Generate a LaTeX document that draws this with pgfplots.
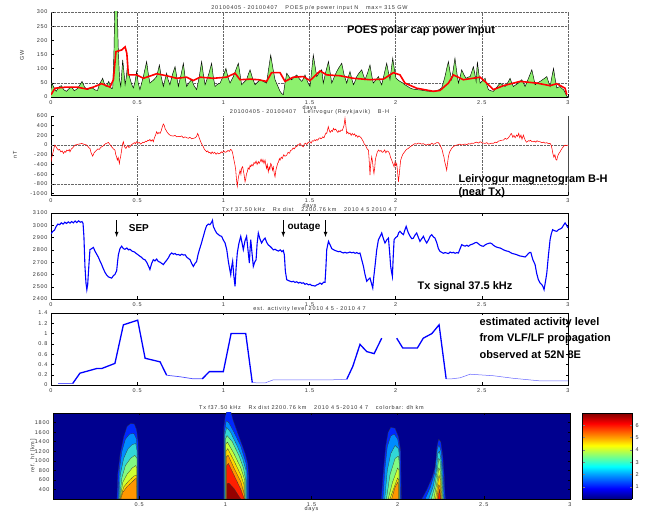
\documentclass[border=0pt]{standalone}
\usepackage{fontspec}
\setmainfont{Liberation Sans}
\usepackage{pgfplots}
\usepackage{pgfplotstable}
\pgfplotsset{compat=1.18}
\newfontfamily\tickfam[LetterSpace=14]{Liberation Sans}
\newcommand\tickfont{\tickfam\fontsize{5.5}{6}\selectfont}
\newcommand\bigfont{\fontsize{11}{13}\selectfont\bfseries}
\definecolor{poesgreen}{RGB}{140,240,110}
\definecolor{jetbg}{RGB}{0,0,143}
\definecolor{cA}{RGB}{0,40,255}
\definecolor{cB}{RGB}{0,140,255}
\definecolor{cC}{RGB}{50,215,215}
\definecolor{cD}{RGB}{130,250,130}
\definecolor{cE}{RGB}{205,255,50}
\definecolor{cF}{RGB}{255,215,0}
\definecolor{cG}{RGB}{255,150,0}
\definecolor{cH}{RGB}{255,30,0}
\definecolor{cI}{RGB}{150,0,0}
\pgfplotsset{
 every axis title shift=0pt,
 base/.style={scale only axis, width=517pt, xmin=0, xmax=3, xtick={0,0.5,1,1.5,2,2.5,3},
  anchor=south west, tick align=inside, major tick length=2.5pt,
  tick style={black, line width=0.4pt},
  tick label style={font=\tickfont, text=black!80},
  /pgf/number format/assume math mode=true, /pgf/number format/1000 sep={},
  title style={font=\tickfont, text=black!80, at={(0.5,1)}, anchor=south, inner sep=1pt},
  xlabel style={font=\tickfont, text=black!80, at={(0.5,0)}, anchor=north, yshift=-8pt, inner sep=0.5pt},
  axis line style={line width=0.5pt}},
 cont/.style={draw=black!80, line width=0.25pt},
}
\pgfplotstableread{
x y
0.000 26
0.006 49
0.015 35
0.030 20
0.045 35
0.060 40
0.075 25
0.090 20
0.105 30
0.120 35
0.135 22
0.150 28
0.165 40
0.180 55
0.195 35
0.210 26
0.225 30
0.240 32
0.255 25
0.270 23
0.280 43
0.290 55
0.300 66
0.310 45
0.320 37
0.335 55
0.350 30
0.358 31
0.365 150
0.370 317
0.378 330
0.385 300
0.390 177
0.398 60
0.405 37
0.410 80
0.416 131
0.423 90
0.430 43
0.437 70
0.443 107
0.450 85
0.458 66
0.468 45
0.478 32
0.488 55
0.497 90
0.506 50
0.516 26
0.535 70
0.555 125
0.565 80
0.574 49
0.595 60
0.613 72
0.629 113
0.640 70
0.652 37
0.661 60
0.671 84
0.680 60
0.690 43
0.705 80
0.720 107
0.730 70
0.739 37
0.755 80
0.768 119
0.778 70
0.787 37
0.800 50
0.816 61
0.830 40
0.845 26
0.860 70
0.874 125
0.884 80
0.894 43
0.915 80
0.932 119
0.942 70
0.952 37
0.966 45
0.981 49
1.000 75
1.015 101
1.027 70
1.039 49
1.048 60
1.058 72
1.072 95
1.087 119
1.097 80
1.106 43
1.120 52
1.135 61
1.145 80
1.155 96
1.170 65
1.184 43
1.198 52
1.213 61
1.232 55
1.251 49
1.263 100
1.275 148
1.288 100
1.300 61
1.315 40
1.329 20
1.339 12
1.348 8
1.358 50
1.368 84
1.383 70
1.397 61
1.411 70
1.426 78
1.440 65
1.455 55
1.465 65
1.474 78
1.488 55
1.503 37
1.512 90
1.522 148
1.532 110
1.542 72
1.556 85
1.571 96
1.580 49
1.595 90
1.610 125
1.620 85
1.629 49
1.643 70
1.658 90
1.672 105
1.687 119
1.700 80
1.716 49
1.725 70
1.735 90
1.745 65
1.755 43
1.764 55
1.774 72
1.788 85
1.803 96
1.812 78
1.822 61
1.837 85
1.851 113
1.860 80
1.870 49
1.885 60
1.900 72
1.910 55
1.919 43
1.933 80
1.948 119
1.957 90
1.967 61
1.975 100
1.983 137
1.992 100
2.002 66
2.014 60
2.025 55
2.040 50
2.054 43
2.068 38
2.083 32
2.100 28
2.122 26
2.140 25
2.161 23
2.180 21
2.199 20
2.220 21
2.238 22
2.252 26
2.267 32
2.276 50
2.286 72
2.296 100
2.306 125
2.315 90
2.325 61
2.335 100
2.344 137
2.354 90
2.364 49
2.374 70
2.383 96
2.395 80
2.408 66
2.420 70
2.432 72
2.442 90
2.451 107
2.460 80
2.467 55
2.474 125
2.482 85
2.490 49
2.505 58
2.519 66
2.528 45
2.538 26
2.552 22
2.567 20
2.587 35
2.606 49
2.620 43
2.635 37
2.650 50
2.664 66
2.673 50
2.683 37
2.697 43
2.712 49
2.722 55
2.732 61
2.741 50
2.751 37
2.770 65
2.790 96
2.800 70
2.809 43
2.823 50
2.838 55
2.857 63
2.877 72
2.886 55
2.896 37
2.906 70
2.916 101
2.925 65
2.935 32
2.945 35
2.954 37
2.964 30
2.974 26
2.984 15
2.993 2
3.000 2
}\poes
\begin{document}
\begin{tikzpicture}[x=1pt,y=1pt]
\path[use as bounding box] (0,0) rectangle (650,511);
% ---------------- Panel 1: POES
\begin{axis}[base, at={(51pt,414pt)}, height=85pt, ymin=0, ymax=300, ytick={0,50,...,300},
  axis x line*=bottom, axis y line*=left, xmajorgrids, grid style={densely dotted, black!60},
  extra y ticks={50,250,300}, extra y tick labels={}, extra y tick style={grid=major, major tick length=0pt},
  title={20100405 - 20100407 \quad POES p/e power input N \quad max= 315 GW}, xlabel={days}]
\addplot[fill=poesgreen, draw=none] table {\poes} \closedcycle;
\addplot[black, line width=0.45pt] table {\poes};
\addplot[red, line width=1.6pt] coordinates {
(0.000,8) (0.023,31) (0.090,35) (0.149,35) (0.207,28) (0.246,35) (0.294,47) (0.342,35) (0.362,61)
(0.377,160) (0.410,166) (0.430,177) (0.440,154) (0.449,78) (0.497,78) (0.536,66) (0.613,82)
(0.671,75) (0.729,66) (0.787,70) (0.826,58) (0.865,70) (0.942,66) (1.019,70) (1.068,84) (1.097,61)
(1.155,63) (1.203,61) (1.251,55) (1.280,86) (1.329,86) (1.358,55) (1.406,70) (1.464,72) (1.503,58)
(1.561,92) (1.600,78) (1.677,75) (1.755,66) (1.851,61) (1.929,63) (1.987,86) (2.025,78) (2.054,49)
(2.122,31) (2.219,20) (2.257,23) (2.306,49) (2.335,78) (2.393,61) (2.490,70) (2.528,49) (2.567,26)
(2.625,40) (2.722,55) (2.819,49) (2.896,40) (2.935,47) (2.983,31) (2.993,8)};
\end{axis}
% ---------------- Panel 2: Leirvogur
\begin{axis}[base, at={(51pt,316pt)}, height=79pt, ymin=-1030, ymax=600, ytick={-1000,-800,...,600},
  xticklabels={0,0.5,1,1.5,2,{},3},
  axis x line*=bottom, axis y line*=left, xmajorgrids, grid style={densely dotted, black!60},
  extra y ticks={0,-800}, extra y tick labels={}, extra y tick style={grid=major, major tick length=0pt},
  extra x ticks={3}, extra x tick labels={}, extra x tick style={grid=major, major grid style={solid, black!70, line width=0.8pt}},
  title={20100405 - 20100407 \quad Leirvogur (Reykjavik) \quad B-H}, xlabel={days}]
\addplot[red, line width=0.55pt] coordinates {
(0.000,-345) (0.005,-241) (0.012,-150) (0.020,-20) (0.023,0) (0.030,-40) (0.037,-80) (0.043,-103)
(0.050,-90) (0.057,-140) (0.065,-120) (0.072,-172) (0.080,-130) (0.086,-150) (0.091,-103) (0.100,-120)
(0.106,-90) (0.110,-138) (0.118,-80) (0.125,-60) (0.132,-30) (0.139,0) (0.150,10) (0.160,20) (0.170,25)
(0.178,35) (0.188,20) (0.198,10) (0.207,0) (0.215,-30) (0.221,-60) (0.226,-69) (0.232,-150) (0.238,-200)
(0.242,-228) (0.250,-160) (0.258,-130) (0.265,-103) (0.272,-80) (0.280,-90) (0.288,-50) (0.294,-35)
(0.302,-20) (0.310,10) (0.318,30) (0.325,40) (0.333,55) (0.340,20) (0.346,-10) (0.352,-35) (0.360,-70)
(0.366,-90) (0.371,-103) (0.376,-200) (0.381,-250) (0.385,-310) (0.390,-260) (0.394,-330) (0.397,-380)
(0.400,-300) (0.404,-241) (0.410,-100) (0.415,20) (0.420,69) (0.425,-20) (0.430,-50) (0.435,-69)
(0.440,-30) (0.447,-10) (0.452,-50) (0.458,-35) (0.465,0) (0.472,20) (0.478,35) (0.485,50) (0.490,30)
(0.497,69) (0.505,40) (0.512,55) (0.520,20) (0.526,35) (0.533,60) (0.540,50) (0.548,80) (0.555,69)
(0.562,100) (0.568,90) (0.574,117) (0.580,80) (0.588,110) (0.594,69) (0.600,150) (0.606,200) (0.613,276)
(0.620,230) (0.626,260) (0.633,241) (0.640,300) (0.646,380) (0.652,434) (0.658,400) (0.662,340)
(0.667,310) (0.675,260) (0.682,230) (0.690,207) (0.700,190) (0.710,186) (0.720,200) (0.730,170)
(0.740,180) (0.749,172) (0.758,190) (0.768,150) (0.778,170) (0.787,152) (0.797,140) (0.806,160)
(0.816,130) (0.826,138) (0.836,150) (0.845,180) (0.851,240) (0.855,207) (0.860,150) (0.865,103)
(0.872,40) (0.878,0) (0.884,-35) (0.890,-90) (0.896,-110) (0.903,-138) (0.910,-120) (0.916,-160)
(0.922,-150) (0.929,-180) (0.935,-140) (0.942,-172) (0.950,-150) (0.958,-190) (0.965,-160) (0.973,-180)
(0.981,-172) (0.988,-140) (0.995,-160) (1.002,-120) (1.010,-150) (1.019,-138) (1.027,-110) (1.035,-130)
(1.042,-90) (1.048,-103) (1.053,-150) (1.058,-241) (1.064,-350) (1.068,-420) (1.072,-517) (1.076,-700)
(1.081,-849) (1.086,-700) (1.090,-620) (1.093,-586) (1.097,-520) (1.102,-600) (1.106,-480) (1.112,-448)
(1.118,-560) (1.122,-650) (1.126,-759) (1.130,-700) (1.134,-600) (1.139,-552) (1.144,-470) (1.150,-500)
(1.155,-420) (1.159,-448) (1.166,-400) (1.172,-430) (1.178,-360) (1.184,-380) (1.190,-330) (1.196,-400)
(1.203,-340) (1.208,-380) (1.213,-345) (1.219,-290) (1.225,-350) (1.230,-300) (1.236,-380) (1.242,-310)
(1.247,-420) (1.251,-480) (1.255,-400) (1.261,-552) (1.266,-450) (1.270,-500) (1.275,-380) (1.280,-414)
(1.285,-520) (1.290,-450) (1.296,-600) (1.300,-655) (1.305,-520) (1.310,-448) (1.315,-380) (1.320,-350)
(1.325,-280) (1.329,-310) (1.336,-250) (1.342,-280) (1.350,-200) (1.358,-230) (1.368,-207) (1.376,-150)
(1.384,-170) (1.390,-110) (1.397,-103) (1.405,-60) (1.412,-80) (1.420,-30) (1.426,-35) (1.432,10)
(1.438,0) (1.445,35) (1.452,0) (1.458,-20) (1.464,-35) (1.470,20) (1.477,40) (1.484,10) (1.490,50)
(1.497,60) (1.503,69) (1.510,40) (1.516,90) (1.522,80) (1.530,110) (1.536,90) (1.542,117) (1.548,100)
(1.555,140) (1.561,150) (1.566,130) (1.571,138) (1.577,170) (1.584,150) (1.590,207) (1.596,250)
(1.600,241) (1.605,320) (1.609,379) (1.615,300) (1.620,260) (1.627,300) (1.633,280) (1.639,345)
(1.645,310) (1.652,330) (1.658,290) (1.665,260) (1.670,300) (1.677,276) (1.683,310) (1.690,300)
(1.695,350) (1.700,400) (1.706,552) (1.711,400) (1.716,241) (1.722,270) (1.728,230) (1.735,250)
(1.742,200) (1.748,240) (1.755,207) (1.762,230) (1.768,180) (1.774,200) (1.780,160) (1.787,190)
(1.793,172) (1.800,150) (1.806,110) (1.813,69) (1.818,20) (1.824,0) (1.829,-35) (1.835,-80) (1.842,-103)
(1.846,-300) (1.851,-621) (1.855,-400) (1.861,-241) (1.866,-350) (1.870,-500) (1.874,-586) (1.879,-450)
(1.882,-300) (1.886,-241) (1.893,-150) (1.900,-103) (1.908,-130) (1.915,-110) (1.922,-150) (1.929,-138)
(1.936,-100) (1.943,-160) (1.950,-120) (1.958,-138) (1.964,-170) (1.970,-250) (1.977,-310) (1.984,-380)
(1.991,-448) (1.996,-350) (2.001,-420) (2.006,-380) (2.011,-550) (2.016,-759) (2.021,-600) (2.025,-450)
(2.029,-310) (2.035,-250) (2.040,-200) (2.045,-172) (2.052,-140) (2.060,-100) (2.067,-80) (2.074,-69)
(2.082,-40) (2.090,-20) (2.096,-10) (2.103,14) (2.112,30) (2.122,20) (2.131,40) (2.141,35) (2.150,20)
(2.160,30) (2.170,10) (2.180,0) (2.190,20) (2.200,10) (2.210,40) (2.219,14) (2.228,30) (2.238,50)
(2.248,48) (2.255,20) (2.261,-30) (2.267,-69) (2.272,-130) (2.276,-200) (2.280,-241) (2.285,-350)
(2.290,-420) (2.296,-517) (2.300,-400) (2.306,-241) (2.312,-150) (2.318,-110) (2.325,-69) (2.335,-30)
(2.345,-10) (2.354,0) (2.364,10) (2.374,20) (2.383,0) (2.393,14) (2.403,20) (2.413,10) (2.422,30)
(2.432,20) (2.441,40) (2.451,35) (2.460,50) (2.470,60) (2.480,40) (2.490,69) (2.500,50) (2.509,40)
(2.519,35) (2.529,50) (2.538,20) (2.548,30) (2.558,40) (2.567,35) (2.577,60) (2.587,50) (2.596,80)
(2.606,90) (2.616,100) (2.625,103) (2.635,140) (2.644,120) (2.654,150) (2.664,200) (2.670,241)
(2.673,230) (2.680,160) (2.686,200) (2.693,150) (2.702,207) (2.708,180) (2.714,240) (2.720,150)
(2.727,207) (2.733,120) (2.741,207) (2.747,140) (2.752,100) (2.758,60) (2.764,69) (2.770,90) (2.776,80)
(2.782,100) (2.790,70) (2.799,69) (2.806,80) (2.813,60) (2.820,90) (2.828,70) (2.838,69) (2.848,50)
(2.858,60) (2.867,40) (2.877,50) (2.886,30) (2.896,35) (2.902,0) (2.908,-90) (2.912,-172) (2.918,-250)
(2.924,-200) (2.930,-300) (2.935,-310) (2.940,-230) (2.946,-180) (2.954,-138) (2.960,-100) (2.967,-60)
(2.974,-30) (2.983,0) (2.990,-10) (3.000,0)};
\end{axis}
% ---------------- Panel 3: Tx signal
\begin{axis}[base, at={(51pt,212pt)}, height=86pt, ymin=2400, ymax=3100, ytick={2400,2500,...,3100},
  title={Tx f 37.50 kHz \quad Rx dist \quad 2200.76 km \quad 2010 4 5 2010 4 7}]
\addplot[blue, line width=1.1pt] coordinates {
(0.000,2930) (0.010,2950) (0.020,2960) (0.030,2990) (0.040,3010) (0.050,3005) (0.060,3020) (0.070,3010)
(0.080,3025) (0.090,3015) (0.100,3028) (0.110,3018) (0.120,3030) (0.130,3020) (0.140,3035) (0.150,3022)
(0.160,3036) (0.170,3025) (0.180,3030) (0.186,3015) (0.191,2910) (0.197,2666) (0.203,2530) (0.208,2476)
(0.213,2520) (0.217,2612) (0.222,2720) (0.226,2802) (0.236,2810) (0.246,2820) (0.255,2790) (0.265,2765)
(0.275,2740) (0.284,2710) (0.294,2680) (0.304,2645) (0.314,2615) (0.323,2595) (0.333,2580) (0.342,2575)
(0.352,2570) (0.362,2590) (0.371,2600) (0.381,2630) (0.386,2700) (0.391,2760) (0.400,2810) (0.410,2830)
(0.420,2810) (0.429,2805) (0.440,2815) (0.450,2800) (0.458,2805) (0.470,2790) (0.480,2785) (0.487,2780)
(0.495,2770) (0.505,2760) (0.516,2748) (0.525,2740) (0.535,2725) (0.545,2720) (0.555,2700) (0.565,2670)
(0.574,2640) (0.584,2690) (0.594,2720) (0.603,2710) (0.613,2725) (0.623,2705) (0.633,2700) (0.642,2690)
(0.652,2680) (0.662,2700) (0.671,2715) (0.681,2735) (0.690,2760) (0.700,2775) (0.710,2765) (0.720,2770)
(0.729,2760) (0.739,2762) (0.749,2755) (0.759,2765) (0.768,2758) (0.778,2760) (0.788,2740) (0.797,2730)
(0.807,2720) (0.816,2690) (0.826,2665) (0.836,2690) (0.845,2705) (0.853,2760) (0.861,2800) (0.872,2850)
(0.884,2910) (0.894,2960) (0.903,2997) (0.913,3010) (0.922,3005) (0.932,3024) (0.937,3040) (0.942,2991)
(0.952,2960) (0.961,2937) (0.971,2925) (0.980,2915) (0.990,2910) (1.000,2880) (1.010,2856) (1.020,2800)
(1.029,2707) (1.036,2650) (1.043,2598) (1.048,2660) (1.054,2707) (1.060,2600) (1.068,2503) (1.074,2650)
(1.081,2774) (1.090,2850) (1.101,2910) (1.108,2860) (1.116,2802) (1.125,2870) (1.135,2910) (1.143,2800)
(1.151,2693) (1.155,2800) (1.159,2883) (1.166,2780) (1.174,2666) (1.182,2700) (1.190,2720) (1.196,2850)
(1.203,2937) (1.212,2890) (1.222,2856) (1.232,2880) (1.242,2896) (1.252,2860) (1.261,2840) (1.271,2829)
(1.281,2815) (1.290,2800) (1.300,2805) (1.310,2796) (1.320,2790) (1.330,2800) (1.340,2785) (1.348,2795)
(1.354,2760) (1.360,2625) (1.368,2557) (1.378,2550) (1.387,2545) (1.397,2540) (1.406,2544) (1.416,2535)
(1.426,2540) (1.436,2530) (1.445,2536) (1.455,2528) (1.465,2532) (1.474,2520) (1.484,2525) (1.494,2515)
(1.503,2520) (1.513,2510) (1.522,2509) (1.532,2505) (1.542,2515) (1.552,2520) (1.561,2530) (1.571,2520)
(1.581,2536) (1.590,2536) (1.595,2650) (1.600,2802) (1.610,2869) (1.620,2840) (1.629,2810) (1.639,2802)
(1.648,2795) (1.658,2790) (1.668,2785) (1.677,2788) (1.687,2780) (1.697,2775) (1.706,2780) (1.716,2774)
(1.726,2778) (1.735,2782) (1.745,2776) (1.755,2780) (1.765,2772) (1.774,2778) (1.784,2770) (1.793,2774)
(1.803,2720) (1.813,2666) (1.822,2600) (1.832,2544) (1.842,2560) (1.851,2571) (1.859,2530) (1.867,2490)
(1.873,2580) (1.880,2666) (1.890,2800) (1.900,2883) (1.910,2910) (1.919,2937) (1.929,2890) (1.938,2856)
(1.948,2880) (1.958,2896) (1.965,2780) (1.971,2666) (1.976,2620) (1.981,2584) (1.986,2750) (1.991,2883)
(2.000,2900) (2.010,2910) (2.018,2940) (2.025,2951) (2.035,2935) (2.045,2924) (2.053,2960) (2.061,2991)
(2.068,2960) (2.074,2937) (2.084,2910) (2.094,2890) (2.103,2896) (2.112,2920) (2.122,2937) (2.132,2900)
(2.141,2869) (2.151,2890) (2.161,2910) (2.170,2880) (2.180,2856) (2.190,2880) (2.200,2910) (2.209,2924)
(2.219,2905) (2.228,2896) (2.238,2860) (2.248,2810) (2.257,2788) (2.267,2780) (2.277,2772) (2.286,2778)
(2.296,2774) (2.306,2770) (2.316,2782) (2.326,2776) (2.335,2780) (2.345,2772) (2.355,2778) (2.364,2774)
(2.374,2810) (2.383,2842) (2.393,2835) (2.403,2830) (2.413,2838) (2.422,2829) (2.432,2840) (2.442,2845)
(2.451,2850) (2.461,2858) (2.470,2861) (2.480,2850) (2.490,2838) (2.499,2832) (2.509,2829) (2.519,2840)
(2.529,2848) (2.538,2852) (2.548,2856) (2.558,2850) (2.567,2838) (2.577,2828) (2.587,2822) (2.596,2818)
(2.606,2815) (2.616,2808) (2.626,2800) (2.635,2795) (2.645,2790) (2.654,2788) (2.664,2780) (2.674,2772)
(2.683,2768) (2.693,2765) (2.702,2761) (2.712,2755) (2.722,2750) (2.732,2748) (2.741,2745) (2.751,2742)
(2.761,2755) (2.770,2770) (2.779,2780) (2.784,2780) (2.796,2720) (2.809,2680) (2.818,2610) (2.828,2557)
(2.838,2530) (2.848,2517) (2.855,2500) (2.861,2476) (2.869,2540) (2.877,2612) (2.886,2750) (2.896,2883)
(2.903,2930) (2.911,2964) (2.923,2955) (2.935,2951) (2.945,2965) (2.955,2970) (2.964,2978) (2.974,3000)
(2.983,3019) (2.990,3005) (3.000,2978)};
\draw[-latex, line width=0.8pt] (0.381,3040) -- (0.381,2905);
\draw[-latex, line width=0.8pt] (1.348,3040) -- (1.348,2905);
\draw[-latex, line width=0.8pt] (1.593,3040) -- (1.593,2905);
\node[font=\fontsize{10}{12}\selectfont\bfseries] at (0.51,2978) {SEP};
\node[font=\fontsize{10}{12}\selectfont\bfseries] at (1.468,2985) {outage};
\end{axis}
% ---------------- Panel 4: activity level
\begin{axis}[base, at={(51pt,126pt)}, height=72pt, ymin=0, ymax=1.4, ytick={0,0.2,...,1.4},
  title={est. activity level 2010 4 5 - 2010 4 7}]
\addplot[blue!60, line width=0.5pt] coordinates {(0.04,0.03) (0.126,0.03)};
\addplot[blue, line width=1.3pt] coordinates {(0.126,0.03) (0.168,0.23) (0.265,0.32) (0.294,0.32) (0.371,0.42) (0.42,1.17) (0.503,1.26) (0.546,0.52) (0.633,0.45) (0.671,0.19)};
\addplot[blue!70, line width=0.7pt] coordinates {(0.671,0.19) (0.749,0.16) (0.826,0.12) (0.878,0.12)};
\addplot[blue, line width=1.3pt] coordinates {(0.878,0.12) (0.919,0.26) (1.0,0.26) (1.045,1.0) (1.13,1.0) (1.168,0.045)};
\addplot[blue!60, line width=0.5pt] coordinates {(1.168,0.045) (1.242,0.04) (1.29,0.1) (1.62,0.1) (1.716,0.11)};
\addplot[blue, line width=1.3pt] coordinates {(1.716,0.11) (1.751,0.36) (1.793,0.79) (1.832,0.65) (1.875,0.61) (1.919,0.91)};
\addplot[blue, line width=1.3pt] coordinates {(2.006,0.91) (2.041,0.72) (2.126,0.72) (2.16,0.91) (2.21,1.0) (2.252,1.17) (2.293,0.12)};
\addplot[blue!60, line width=0.5pt] coordinates {(2.293,0.12) (2.326,0.12) (2.374,0.14) (2.432,0.21) (2.567,0.18) (2.683,0.13) (2.838,0.08) (3.0,0.08)};
\end{axis}
% ---------------- Panel 5: contour
\begin{axis}[base, at={(53pt,12pt)}, height=86pt, ymin=200, ymax=2000, ytick={400,600,...,1800},
  xtick={0.5,1,1.5,2,2.5,3}, axis background/.style={fill=jetbg},
  title style={yshift=2pt},
  title={Tx f37.50 kHz \quad Rx dist 2200.76 km \quad 2010 4 5-2010 4 7 \quad colorbar: dh km},
  xlabel={days}, xlabel style={yshift=1.2pt},
  ylabel={ref. ht [km]}, ylabel style={font=\tickfont, text=black!80, at={(0,0.5)}, yshift=14pt}]
% blob 1
\addplot[cont, fill=cA] coordinates {(0.371,200) (0.375,700) (0.39,1150) (0.41,1500) (0.43,1720) (0.45,1780) (0.472,1770) (0.485,1650) (0.494,1400) (0.497,1000) (0.497,200)} -- cycle;
\addplot[cont, fill=cB] coordinates {(0.378,200) (0.385,800) (0.40,1200) (0.42,1450) (0.445,1560) (0.47,1570) (0.485,1450) (0.49,1100) (0.49,200)} -- cycle;
\addplot[cont, fill=cC] coordinates {(0.383,200) (0.39,700) (0.41,1050) (0.435,1250) (0.46,1340) (0.48,1360) (0.488,1200) (0.488,200)} -- cycle;
\addplot[cont, fill=cD] coordinates {(0.386,200) (0.40,650) (0.42,900) (0.45,1050) (0.475,1115) (0.487,1050) (0.487,200)} -- cycle;
\addplot[cont, fill=cE] coordinates {(0.389,200) (0.405,550) (0.43,720) (0.46,850) (0.48,900) (0.486,850) (0.486,200)} -- cycle;
\addplot[cont, fill=cF] coordinates {(0.39,200) (0.41,450) (0.44,580) (0.47,680) (0.485,700) (0.486,200)} -- cycle;
\addplot[cont, fill=cG] coordinates {(0.393,200) (0.405,340) (0.43,460) (0.46,560) (0.483,640) (0.485,200)} -- cycle;
% blob 2
\addplot[cont, fill=cA] coordinates {(0.991,200) (0.991,1700) (1.0,1950) (1.01,2050) (1.03,2050) (1.045,1850) (1.08,1500) (1.115,1150) (1.13,950) (1.136,700) (1.136,200)} -- cycle;
\addplot[cont, fill=cB] coordinates {(0.995,200) (0.995,1600) (1.005,1837) (1.02,1800) (1.05,1600) (1.09,1300) (1.12,950) (1.128,700) (1.128,200)} -- cycle;
\addplot[cont, fill=cC] coordinates {(0.998,200) (0.998,1550) (1.008,1699) (1.03,1600) (1.07,1300) (1.10,1050) (1.12,800) (1.122,200)} -- cycle;
\addplot[cont, fill=cD] coordinates {(1.0,200) (1.0,1450) (1.01,1528) (1.04,1400) (1.08,1100) (1.105,850) (1.118,600) (1.118,200)} -- cycle;
\addplot[cont, fill=cE] coordinates {(1.002,200) (1.002,1350) (1.012,1390) (1.05,1150) (1.09,850) (1.112,600) (1.112,200)} -- cycle;
\addplot[cont, fill=cF] coordinates {(1.004,200) (1.004,1200) (1.014,1253) (1.05,1000) (1.09,700) (1.108,500) (1.108,200)} -- cycle;
\addplot[cont, fill=cG] coordinates {(1.006,200) (1.006,1080) (1.016,1116) (1.05,850) (1.09,560) (1.11,300) (1.112,200)} -- cycle;
\addplot[cont, fill=cH] coordinates {(1.008,200) (1.008,900) (1.018,944) (1.05,700) (1.09,400) (1.105,250) (1.11,200)} -- cycle;
\addplot[cont, fill=cI] coordinates {(1.01,200) (1.01,520) (1.02,532) (1.05,420) (1.08,250) (1.09,200)} -- cycle;
% blob 3
\addplot[cont, fill=cA] coordinates {(1.905,200) (1.915,700) (1.93,1300) (1.945,1600) (1.96,1700) (1.985,1680) (2.005,1500) (2.018,1200) (2.021,200)} -- cycle;
\addplot[cont, fill=cB] coordinates {(1.915,200) (1.925,800) (1.94,1300) (1.96,1520) (1.98,1560) (2.0,1450) (2.012,1200) (2.015,200)} -- cycle;
\addplot[cont, fill=cC] coordinates {(1.925,200) (1.94,800) (1.96,1150) (1.985,1320) (2.005,1250) (2.012,1000) (2.012,200)} -- cycle;
\addplot[cont, fill=cD] coordinates {(1.935,200) (1.955,700) (1.985,1050) (2.005,1100) (2.01,900) (2.01,200)} -- cycle;
\addplot[cont, fill=cE] coordinates {(1.945,200) (1.97,550) (2.0,850) (2.008,800) (2.008,200)} -- cycle;
\addplot[cont, fill=cF] coordinates {(1.955,200) (1.98,450) (2.0,640) (2.006,600) (2.006,200)} -- cycle;
\addplot[cont, fill=cG] coordinates {(1.965,200) (1.985,450) (2.0,550) (2.004,500) (2.004,200)} -- cycle;
% blob 4
\addplot[cont, fill=cA] coordinates {(2.14,200) (2.17,400) (2.2,650) (2.22,900) (2.228,1300) (2.238,1450) (2.25,1400) (2.262,1100) (2.27,700) (2.275,300) (2.278,200)} -- cycle;
\addplot[cont, fill=cB] coordinates {(2.16,200) (2.19,450) (2.215,750) (2.23,1250) (2.24,1330) (2.252,1200) (2.262,800) (2.27,200)} -- cycle;
\addplot[cont, fill=cC] coordinates {(2.18,200) (2.205,450) (2.225,800) (2.233,1150) (2.242,1200) (2.252,1000) (2.26,600) (2.265,200)} -- cycle;
\addplot[cont, fill=cD] coordinates {(2.195,200) (2.215,450) (2.23,800) (2.238,1050) (2.246,1000) (2.256,600) (2.262,200)} -- cycle;
\addplot[cont, fill=cE] coordinates {(2.21,200) (2.228,550) (2.238,850) (2.246,800) (2.255,450) (2.258,200)} -- cycle;
\addplot[cont, fill=cF] coordinates {(2.22,200) (2.232,500) (2.24,700) (2.248,600) (2.255,200)} -- cycle;
\addplot[cont, fill=cG] coordinates {(2.228,200) (2.238,500) (2.246,450) (2.252,200)} -- cycle;
\addplot[cont, fill=cH] coordinates {(2.234,200) (2.242,400) (2.25,200)} -- cycle;
\end{axis}
% ---------------- colorbar
\begin{axis}[scale only axis, at={(582pt,12pt)}, anchor=south west, width=50pt, height=86pt,
  xmin=0, xmax=1, ymin=0, ymax=7, xtick=\empty, ytick={1,2,3,4,5,6}, yticklabel pos=right,
  tick align=inside, major tick length=2.5pt, tick label style={font=\tickfont, text=black!80},
  /pgf/number format/assume math mode=true, view={0}{90}, colormap/jet, point meta min=0, point meta max=7]
\addplot3[surf, shader=interp, mesh/rows=8, mesh/cols=2] coordinates {
(0,0,0) (1,0,0) (0,1,1) (1,1,1) (0,2,2) (1,2,2) (0,3,3) (1,3,3) (0,4,4) (1,4,4) (0,5,5) (1,5,5) (0,6,6) (1,6,6) (0,7,7) (1,7,7)};
\end{axis}
% ---------------- annotations
\node[font=\bigfont] at (421,480) {POES polar cap power input};
\node[font=\bigfont, anchor=west] at (455,331) {Leirvogur magnetogram B-H};
\node[font=\bigfont, anchor=west] at (455,318) {(near Tx)};
\node[font=\bigfont] at (465,224) {Tx signal 37.5 kHz};
\node[font=\bigfont, anchor=west] at (476,188) {estimated activity level};
\node[font=\bigfont, anchor=west] at (476,172) {from VLF/LF propagation};
\node[font=\bigfont, anchor=west] at (476,156) {observed at 52N 8E};
\node[font=\tickfont, rotate=90, text=black!80] at (22,456) {GW};
\node[font=\tickfont, rotate=90, text=black!80] at (15,356) {nT};
\end{tikzpicture}
\end{document}
